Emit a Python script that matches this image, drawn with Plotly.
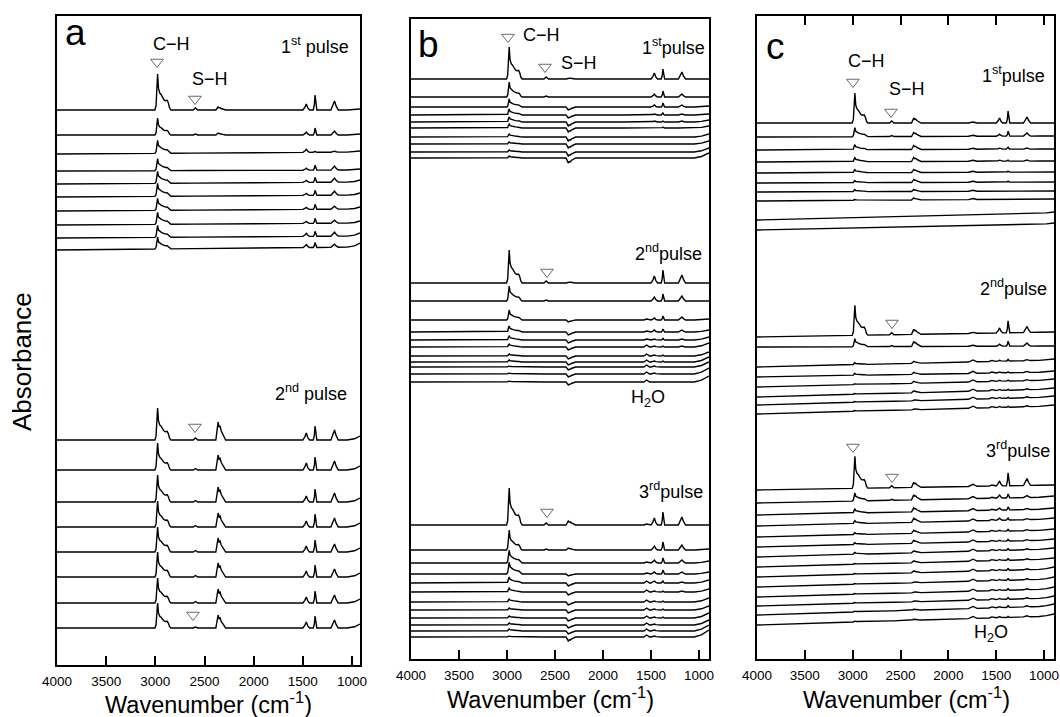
import plotly.graph_objects as go

W, H = 1060, 717

# ---------------- band key points (wavenumber, relative intensity) ----------------
CH_WN = [3005, 2993, 2983, 2977, 2968, 2955, 2942, 2928, 2912, 2896, 2880, 2868, 2856, 2842]
CH_REL = [0.0, 0.12, 0.8, 1.0, 0.6, 0.47, 0.43, 0.36, 0.28, 0.26, 0.27, 0.2, 0.06, 0.0]
SH_WN = [2615, 2592, 2568]
SH_REL = [0.0, 1.0, 0.0]
CO2_WN = [2385, 2372, 2362, 2352, 2342, 2330, 2315, 2300, 2285]
CO2_REL = [0.0, 0.55, 1.0, 0.72, 0.78, 0.5, 0.3, 0.12, 0.0]
B1730_WN = [1790, 1742, 1700]
B1730_REL = [0.0, 1.0, 0.0]
B1540_WN = [1575, 1545, 1515]
B1540_REL = [0.0, 1.0, 0.0]
B1460_WN = [1500, 1480, 1465, 1450, 1432]
B1460_REL = [0.0, 0.45, 1.0, 0.35, 0.0]
B1375_WN = [1394, 1383, 1376, 1369, 1358]
B1375_REL = [0.0, 0.35, 1.0, 0.35, 0.0]
B1170_WN = [1215, 1195, 1178, 1162, 1140]
B1170_REL = [0.0, 0.45, 1.0, 0.45, 0.0]
EDGE_WN = [1050, 975]
EDGE_REL = [0.0, 0.3]

# ---------------- panel a (values in pixel-sized absorbance units) ----------------
A_XEND = 919
A_BASE = [555, 530, 511, 494, 481, 468, 454, 440, 427, 415, 225, 195, 163, 138, 113, 88, 62, 37]
A_TILT = [0, 0, 2, 1, 2, 2, 2, 2, 2, 3, 0, 0, 0, 0, 0, 0, 0, 0]
A_EDGE = [1, 1, 1, 1, 2, 2, 2, 2, 3, 4, 4, 4, 4, 4, 4, 4, 4, 4]
A_CH = [36, 17, 13, 12, 12, 13, 12, 12, 12, 12, 32, 27, 27, 26, 25, 25, 25, 25]
A_SH = [2, 1, 0, 0, 0, 0, 0, 0, 0, 0, 2, 1.5, 1.5, 1.5, 1.5, 1.5, 1.5, 1]
A_CO2 = [3, 2, 0, 0, 0, 0, 0, 0, 0, 0, 18, 15, 15, 14, 14, 14, 14, 13]
A_1730 = [0, 0, 0, 0, 0, 0, 0, 0, 0, 0, 0, 0, 0, 0, 0, 0, 0, 0]
A_1540 = [0, 0, 0, 0, 0, 0, 0, 0, 0, 0, 0, 0, 0, 0, 0, 0, 0, 0]
A_1460 = [6, 3, 3, 2, 2, 2, 2, 2, 3, 3, 7, 7, 6, 6, 6, 6, 6, 6]
A_1375 = [15, 7, 1, 5, 5, 5, 5, 5, 5, 5, 14, 13, 13, 13, 12, 12, 12, 12]
A_1170 = [9, 4, 1, 4, 4, 4, 3, 3, 4, 3, 10, 9, 9, 9, 8, 8, 8, 8]

# ---------------- panel b ----------------
B_XEND = 896
B_BASE = [580, 562, 552, 544, 537, 531, 522, 515, 507, 501,
          376, 358, 339, 327, 319, 312, 303, 297, 292, 285, 277,
          134, 109, 96, 85, 76, 67, 57, 49, 41, 34, 28, 22]
B_TILT = [0, 0, 0, 0, 0, 0, 0, 0, 0, 0,
          0, 0, 0, 0, 0, 0, 0, 0, 0, 0, 0,
          0, 0, 0, 0, 0, 0, 0, 0, 0, 0, 0, 0]
B_EDGE = [0, 0, 1, 1, 2, 2, 3, 3, 4, 5,
          0, 0, 1, 2, 3, 4, 4, 5, 5, 6, 6,
          0, 1, 2, 2, 3, 3, 4, 4, 5, 5, 6, 7]
B_CH = [32, 15, 8, 6, 5, 4, 3, 2, 2, 2,
        33, 15, 10, 6, 4, 3, 2, 2, 1, 1, 1,
        37, 20, 13, 12, 6, 4, 3, 2, 2, 2, 2, 1]
B_SH = [2, 1, 0, 0, 0, 0, 0, 0, 0, 0,
        2, 1, 0, 0, 0, 0, 0, 0, 0, 0, 0,
        2, 1, 0, 0, 0, 0, 0, 0, 0, 0, 0, 0]
B_CO2 = [1, 0, -3, -3, -4, -4, -4, -4, -4, -5,
         1, 0, -2, -3, -3, -3, -3, -3, -3, -3, -3,
         4, 2, 0, -2, -3, -3, -3, -3, -3, -3, -3, -4]
B_1730 = [0, 0, 0, 0, 0, 0, 0, 0, 0, 0,
          0, 0, 0, 0, 0, 0, 0, 0, 0, 0, 0,
          0, 0, 0, 0, 0, 0, 0, 0, 0, 0, 0, 0]
B_1540 = [0, 0, 0, 0, 0, 0, 0, 0, 0, 0,
          0, 0, 1, 1, 1, 2, 2, 2, 2, 2, 2,
          1, 0, 1, 1, 2, 2, 2, 2, 2, 2, 2, 2]
B_1460 = [6, 3, 2, 1, 1, 0, 0, 0, 0, 0,
          7, 4, 2, 2, 1, 1, 1, 1, 1, 1, 0,
          7, 4, 3, 2, 2, 1, 1, 1, 1, 1, 1, 1]
B_1375 = [10, 6, 4, 2, 1, 1, 0, 0, 0, 0,
          13, 7, 4, 3, 2, 1, 1, 1, 0, 0, 0,
          13, 8, 5, 4, 2, 1, 1, 1, 1, 0, 0, 0]
B_1170 = [7, 3, 2, 1, 1, 0, 0, 0, 0, 0,
          8, 5, 3, 2, 1, 1, 0, 0, 0, 0, 0,
          8, 5, 3, 2, 1, 1, 0, 0, 0, 0, 0, 0]

# ---------------- panel c ----------------
C_XEND = 896
C_BASE = [536, 522, 509, 497, 486, 476, 467, 458, 439, 429,
          322, 312, 292, 282, 272, 262, 254, 245,
          169, 156, 144, 133, 122, 112, 102, 92, 82, 72, 62, 53, 44, 34]
C_TILT = [0, 1, 1, 1, 1, 1, 1, 2, 7, 6,
          5, 1, 7, 5, 7, 8, 8, 8,
          5, 6, 6, 7, 7, 7, 8, 8, 8, 8, 8, 8, 9, 9]
C_EDGE = [0, 0, 0, 0, 0, 0, 0, 0, 1, 1,
          0, 0, 1, 1, 1, 1, 1, 1,
          0, 1, 1, 1, 1, 1, 1, 1, 2, 2, 2, 2, 2, 2]
C_CH = [30, 9, 5, 4, 3, 2, 2, 1, 0, 0,
        30, 8, 2, 2, 1, 1, 1, 1,
        32, 8, 4, 3, 2, 2, 2, 1, 1, 1, 1, 1, 1, 1]
C_SH = [2, 1, 0, 0, 0, 0, 0, 0, 0, 0,
        2, 1, 0, 0, 0, 0, 0, 0,
        2, 1, 0, 0, 0, 0, 0, 0, 0, 0, 0, 0, 0, 0]
C_CO2 = [5, 4, 4, 4, 3, 3, 2, 2, 0, 0,
         5, 5, 2, 2, 2, 2, 1, 1,
         5, 5, 4, 4, 3, 3, 2, 2, 2, 1, 1, 1, 1, 1]
C_1730 = [1, 1, 1, 1, 1, 1, 1, 1, 0, 0,
          1, 1, 2, 2, 2, 2, 2, 2,
          2, 2, 2, 2, 2, 2, 2, 2, 2, 2, 2, 2, 2, 2]
C_1540 = [0, 0, 0, 0, 0, 0, 0, 0, 0, 0,
          0, 0, 1, 1, 1, 1, 1, 1,
          1, 1, 1, 1, 1, 1, 1, 1, 1, 1, 1, 1, 1, 1]
C_1460 = [5, 2, 1, 1, 0, 0, 0, 0, 0, 0,
          5, 2, 1, 1, 1, 1, 1, 1,
          5, 3, 2, 2, 1, 1, 1, 1, 1, 1, 1, 1, 1, 1]
C_1375 = [12, 5, 2, 1, 1, 1, 0, 0, 0, 0,
          12, 5, 2, 1, 1, 1, 1, 1,
          13, 4, 3, 2, 2, 2, 2, 2, 2, 2, 2, 2, 2, 1]
C_1170 = [6, 3, 1, 1, 0, 0, 0, 0, 0, 0,
          6, 3, 1, 1, 1, 1, 1, 1,
          7, 2, 1, 1, 1, 1, 1, 1, 1, 1, 1, 1, 1, 1]

TICKS = [4000, 3500, 3000, 2500, 2000, 1500, 1000]

BANDS = [(CH_WN, CH_REL), (SH_WN, SH_REL), (CO2_WN, CO2_REL), (B1730_WN, B1730_REL),
         (B1540_WN, B1540_REL), (B1460_WN, B1460_REL), (B1375_WN, B1375_REL),
         (B1170_WN, B1170_REL)]

FONT = "Liberation Sans, Arial, sans-serif"


def spectrum(xend, base, tilt, edge, amps):
    xs, ys = [4000], [0.0]
    for (wn, rel), a in zip(BANDS, amps):
        for w, r in zip(wn, rel):
            xs.append(w)
            ys.append(a * r)
    for w, r in zip(EDGE_WN, EDGE_REL):
        xs.append(w)
        ys.append(edge * r)
    xs.append(xend)
    ys.append(edge)
    yy = [base + tilt * (4000 - x) / (4000 - xend) + v for x, v in zip(xs, ys)]
    return xs, yy


# panel geometry in pixels: left, right, top, bottom
PANELS = {
    "a": dict(px=(57, 360, 16, 665), xend=A_XEND,
              data=(A_BASE, A_TILT, A_EDGE, A_CH, A_SH, A_CO2, A_1730, A_1540, A_1460, A_1375, A_1170)),
    "b": dict(px=(411, 709, 19, 659), xend=B_XEND,
              data=(B_BASE, B_TILT, B_EDGE, B_CH, B_SH, B_CO2, B_1730, B_1540, B_1460, B_1375, B_1170)),
    "c": dict(px=(757, 1054, 16, 659), xend=C_XEND,
              data=(C_BASE, C_TILT, C_EDGE, C_CH, C_SH, C_CO2, C_1730, C_1540, C_1460, C_1375, C_1170)),
}

fig = go.Figure()
layout = dict(width=W, height=H, autosize=False, margin=dict(l=0, r=0, t=0, b=0, pad=0),
              paper_bgcolor="white", plot_bgcolor="white", showlegend=False,
              font=dict(family=FONT, color="black"))

for i, (name, p) in enumerate(PANELS.items()):
    sfx = "" if i == 0 else str(i + 1)
    xa, ya = "x" + sfx, "y" + sfx
    l, r, t, b = p["px"]
    base, tilt, edge, ch, sh, co2, b1730, b1540, b1460, b1375, b1170 = p["data"]
    for k in range(len(base)):
        amps = [ch[k], sh[k], co2[k], b1730[k], b1540[k], b1460[k], b1375[k], b1170[k]]
        xs, ys = spectrum(p["xend"], base[k], tilt[k], edge[k], amps)
        fig.add_trace(go.Scatter(x=xs, y=ys, mode="lines", xaxis=xa, yaxis=ya,
                                 line=dict(color="black", width=1.4), hoverinfo="skip"))
    layout["xaxis" + sfx] = dict(
        domain=[l / W, r / W], range=[4000, p["xend"]], anchor=ya, automargin=False,
        tickmode="array", tickvals=TICKS, ticktext=[str(v) for v in TICKS],
        ticks="inside", ticklen=9, tickwidth=2, tickcolor="black",
        ticklabelstandoff=3,
        showline=True, linewidth=2, linecolor="black",
        mirror="ticks" if name == "c" else True,
        showgrid=False, zeroline=False,
        tickfont=dict(size=13.5, family=FONT, color="black"))
    layout["yaxis" + sfx] = dict(
        domain=[1 - b / H, 1 - t / H], range=[0, b - t], anchor=xa, automargin=False,
        showline=True, linewidth=2, linecolor="black", mirror=True,
        showticklabels=False, ticks="", showgrid=False, zeroline=False)

# open triangle markers (wavenumber, height)
TRI = {
    "": ([2983, 2597, 2597, 2617], [603, 566, 238, 50]),
    "2": ([2990, 2604, 2583, 2583], [622, 592, 387, 147]),
    "3": ([2997, 2600, 2589, 2997, 2589], [577, 547, 336, 212, 182]),
}
for sfx, (tx, ty) in TRI.items():
    fig.add_trace(go.Scatter(x=tx, y=ty, mode="markers", xaxis="x" + sfx, yaxis="y" + sfx,
                             marker=dict(symbol="triangle-down-open", size=11,
                                         color="#6a6a6a", line=dict(width=1)),
                             hoverinfo="skip"))

anns = []


def txt(s, px, py, size=18, **kw):
    anns.append(dict(text=s, x=px / W, y=1 - py / H, xref="paper", yref="paper",
                     showarrow=False, xanchor="center", yanchor="middle",
                     font=dict(size=size, color="black", family=FONT), **kw))


# panel a
txt("a", 75, 33, 37)
txt("C−H", 171, 44)
txt("S−H", 210, 79)
txt("1<sup>st</sup> pulse", 315, 45)
txt("2<sup>nd</sup> pulse", 311, 392)
# panel b
txt("b", 428, 44, 37)
txt("C−H", 541, 35)
txt("S−H", 579, 63)
txt("1<sup>st</sup>pulse", 673, 46)
txt("2<sup>nd</sup>pulse", 668, 252)
txt("H<sub>2</sub>O", 648, 398)
txt("3<sup>rd</sup>pulse", 671, 491)
# panel c
txt("c", 775, 46, 37)
txt("C−H", 866, 61)
txt("S−H", 907, 89)
txt("1<sup>st</sup>pulse", 1013, 74)
txt("2<sup>nd</sup>pulse", 1013, 287)
txt("3<sup>rd</sup>pulse", 1018, 449)
txt("H<sub>2</sub>O", 991, 633)
# axis titles
txt("Wavenumber (cm<sup>-1</sup>)", 208, 703, 23.5)
txt("Wavenumber (cm<sup>-1</sup>)", 550, 698, 23.5)
txt("Wavenumber (cm<sup>-1</sup>)", 906, 698, 23.5)
txt("Absorbance", 22, 362, 26, textangle=-90)

layout["annotations"] = anns
fig.update_layout(**layout)
fig.write_html("out.html", config={"displayModeBar": False, "staticPlot": True},
               post_script="document.body.style.margin='0';document.body.style.padding='0';"
                           "document.body.style.overflow='hidden';")
